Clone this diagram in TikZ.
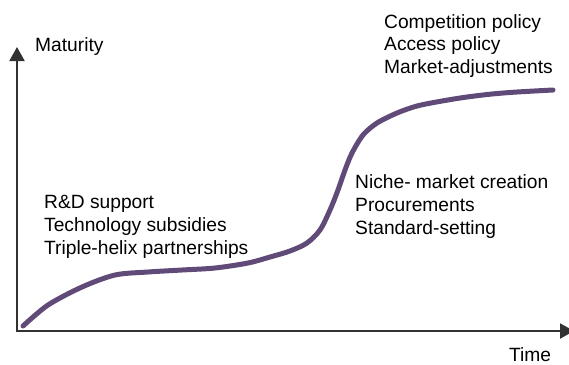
\documentclass[tikz,border=0pt]{standalone}
\usepackage{fontspec}
\setmainfont{Liberation Sans}
\usetikzlibrary{arrows.meta}
\definecolor{curvepurple}{RGB}{96,74,120}
\definecolor{axisgray}{RGB}{50,50,50}
\begin{document}
\begin{tikzpicture}[x=1bp,y=-1bp,
  lbl/.style={anchor=base west,inner sep=0pt,font=\fontsize{19.2bp}{23bp}\selectfont,text=black},
  axisline/.style={line width=2bp,draw=axisgray,-{Triangle[width=15bp,length=14bp]}},
  scurve/.style={line width=5bp,draw=curvepurple,line cap=round}]
\useasboundingbox (0,0) rectangle (569,364);
\coordinate (origin) at (17,331);
\coordinate (ytop) at (17,47);
\coordinate (xend) at (574,331);
\draw[axisline] (origin) -- (ytop);
\draw[axisline] ([xshift=-1bp]origin) -- (xend);
\draw[scurve] plot[smooth,tension=0.5] coordinates {(23,326) (48,305) (82,287) (115,275) (148,272) (182,270) (215,268) (248,263) (270,257) (290,251) (307,243) (320,230) (330,210) (338,190) (345,170) (352,153) (363,135) (377,123) (397,113) (417,106) (442,101) (467,97) (492,94) (517,92) (553,90)};
\node[lbl] (maturity) at (35,51) {Maturity};
\node[lbl] (time) at (509,361) {Time};
\node[lbl] (a1) at (44,208) {R\&D support};
\node[lbl] (a2) at (44,231) {Technology subsidies};
\node[lbl] (a3) at (44,254) {Triple-helix partnerships};
\node[lbl] (b1) at (355,188) {Niche- market creation};
\node[lbl] (b2) at (355,211) {Procurements};
\node[lbl] (b3) at (355,234) {Standard-setting};
\node[lbl] (c1) at (384,28) {Competition policy};
\node[lbl] (c2) at (384,50) {Access policy};
\node[lbl] (c3) at (384,73) {Market-adjustments};
\end{tikzpicture}
\end{document}
